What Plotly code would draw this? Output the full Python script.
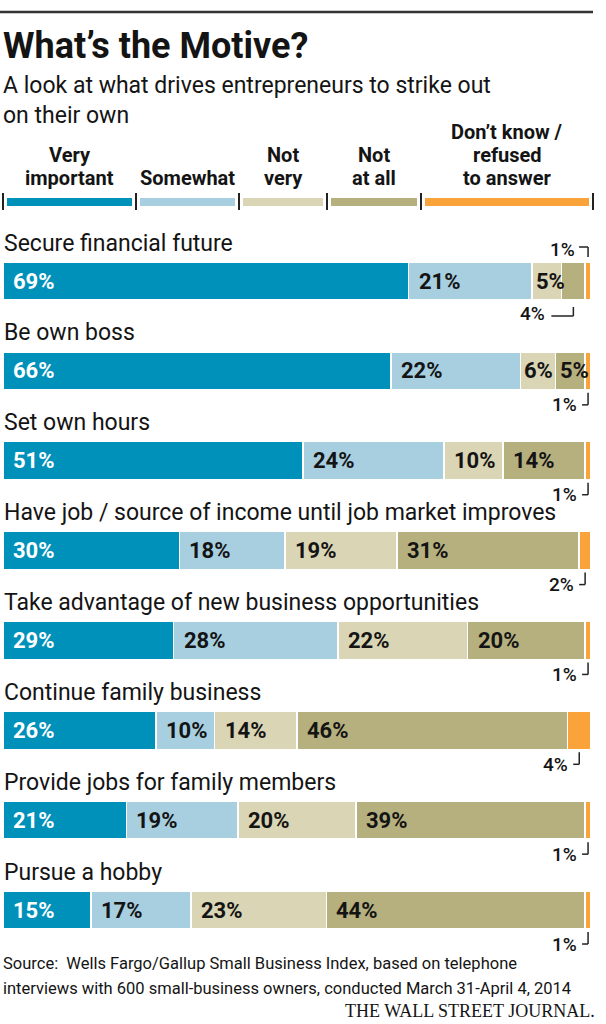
import plotly.graph_objects as go

# ---------------- data ----------------
categories = [
    "Secure financial future",
    "Be own boss",
    "Set own hours",
    "Have job / source of income until job market improves",
    "Take advantage of new business opportunities",
    "Continue family business",
    "Provide jobs for family members",
    "Pursue a hobby",
]
very_important = [69, 66, 51, 30, 29, 26, 21, 15]
somewhat = [21, 22, 24, 18, 28, 10, 19, 17]
not_very = [5, 6, 10, 19, 22, 14, 20, 23]
not_at_all = [4, 5, 14, 31, 20, 46, 39, 44]
dont_know = [1, 1, 1, 2, 1, 4, 1, 1]

series_names = ["Very important", "Somewhat", "Not very", "Not at all",
                "Don't know / refused to answer"]
legend_lines = [["Very", "important"], ["Somewhat"], ["Not", "very"],
                ["Not", "at all"], ["Don\u2019t know /", "refused", "to answer"]]
colors = ["#0091BA", "#A7CFE0", "#DAD5B4", "#B6B07E", "#F9A33A"]

title = "What\u2019s the Motive?"
subtitle = "A look at what drives entrepreneurs to strike out<br>on their own"
source_lines = [
    "Source:\u00a0\u00a0Wells Fargo/Gallup Small Business Index, based on telephone",
    "interviews with 600 small-business owners, conducted March 31-April 4, 2014",
]
credit = "THE WALL STREET JOURNAL."

# ---------------- layout constants ----------------
W, H = 606, 1024
X0 = 3.0          # pixel where 0% sits
S = 5.88          # pixels per percent
R0 = 281.0        # pixel centre of first row
RS = 89.86        # pixels between rows
BW = 38.0 / RS    # bar thickness in row units
FONT = "Roboto, 'Open Sans', sans-serif"
INK = "#141414"

series = [very_important, somewhat, not_very, not_at_all, dont_know]
rows = list(range(len(categories)))


def px(x):
    return x / W


def py(y):
    return 1 - y / H


fig = go.Figure()
for name, vals, col in zip(series_names, series, colors):
    fig.add_trace(go.Bar(
        x=vals, y=rows, orientation="h", name=name, width=BW,
        marker=dict(color=col, line=dict(color="white", width=1.5)),
        hoverinfo="skip", showlegend=False,
    ))

ann = []
shapes = []

# category labels
for i in rows:
    ann.append(dict(x=0, y=i - BW / 2, xref="x", yref="y", text=categories[i],
                    xanchor="left", yanchor="middle", yshift=19, xshift=-1,
                    showarrow=False,
                    font=dict(family=FONT, size=23, color=INK)))

LINE = dict(color="#222222", width=1.5)
SMALL = dict(family=FONT, size=19, weight=500, color=INK)

for i in rows:
    left = 0
    outside = [k for k in range(len(series)) if series[k][i] < 5]
    for k in range(len(series)):
        v = series[k][i]
        if v >= 5:
            ann.append(dict(x=left, y=i, xref="x", yref="y", text=f"{v}%",
                            xanchor="left", yanchor="middle",
                            xshift=8 if v >= 10 else 2, showarrow=False,
                            font=dict(family=FONT, size=22, weight="bold",
                                      color="white" if k == 0 else INK)))
        else:
            mark = left + v / 2
            top = i - BW / 2
            bot = i + BW / 2
            if len(outside) > 1 and k == outside[-1]:
                # label above with a bracket
                shapes.append(dict(type="line", xref="x", yref="y", ysizemode="pixel",
                                   yanchor=top, x0=mark, x1=mark, y0=5, y1=15, line=LINE))
                shapes.append(dict(type="line", xref="x", yref="y", xsizemode="pixel",
                                   ysizemode="pixel", xanchor=mark, yanchor=top,
                                   x0=-9, x1=0, y0=15, y1=15, line=LINE))
                ann.append(dict(x=mark, y=top, xref="x", yref="y", text=f"{v}%",
                                xanchor="right", yanchor="middle", xshift=-11, yshift=13,
                                showarrow=False, font=SMALL))
            elif len(outside) > 1:
                # label below with a long leader
                shapes.append(dict(type="line", xref="x", yref="y", ysizemode="pixel",
                                   yanchor=bot, x0=mark, x1=mark, y0=-7, y1=-16, line=LINE))
                shapes.append(dict(type="line", xref="x", yref="y", xsizemode="pixel",
                                   ysizemode="pixel", xanchor=mark, yanchor=bot,
                                   x0=-22, x1=0, y0=-16, y1=-16, line=LINE))
                ann.append(dict(x=mark, y=bot, xref="x", yref="y", text=f"{v}%",
                                xanchor="right", yanchor="middle", xshift=-26, yshift=-13,
                                showarrow=False, font=SMALL))
            else:
                # label below with a short corner mark
                shapes.append(dict(type="line", xref="x", yref="y", ysizemode="pixel",
                                   yanchor=bot, x0=mark, x1=mark, y0=-3, y1=-15, line=LINE))
                shapes.append(dict(type="line", xref="x", yref="y", xsizemode="pixel",
                                   ysizemode="pixel", xanchor=mark, yanchor=bot,
                                   x0=-6, x1=0, y0=-15, y1=-15, line=LINE))
                ann.append(dict(x=mark, y=bot, xref="x", yref="y", text=f"{v}%",
                                xanchor="right", yanchor="middle", xshift=-9, yshift=-15,
                                showarrow=False, font=SMALL))
        left += v

# top rule
shapes.append(dict(type="line", xref="paper", yref="paper", x0=0, x1=px(593),
                   y0=py(12), y1=py(12), line=dict(color="#333333", width=2.5)))

# title / subtitle
ann.append(dict(x=px(1), y=py(46), xref="paper", yref="paper", text=f"<b>{title}</b>",
                xanchor="left", yanchor="middle", showarrow=False,
                font=dict(family=FONT, size=36, color=INK)))
ann.append(dict(x=px(1), y=py(100), xref="paper", yref="paper", text=subtitle,
                xanchor="left", yanchor="middle", showarrow=False, align="left",
                font=dict(family=FONT, size=23, color=INK)))

# legend key
ticks = [3, 136, 239, 327, 421, 593]
for t in ticks:
    shapes.append(dict(type="line", xref="paper", yref="paper", x0=px(t), x1=px(t),
                       y0=py(193), y1=py(210), line=dict(color="#222222", width=2)))
for k in range(len(series_names)):
    a, b = ticks[k], ticks[k + 1]
    shapes.append(dict(type="rect", xref="paper", yref="paper", x0=px(a + 4), x1=px(b - 4),
                       y0=py(198), y1=py(206), fillcolor=colors[k], line=dict(width=0)))
    lines = legend_lines[k]
    n = len(lines)
    for j, ln in enumerate(lines):
        mid = 178 - 23 * (n - 1 - j)
        ann.append(dict(x=px((a + b) / 2), y=py(mid), xref="paper", yref="paper",
                        text=f"<b>{ln}</b>", xanchor="center", yanchor="middle",
                        showarrow=False, font=dict(family=FONT, size=20, color=INK)))

# footer
for j, ln in enumerate(source_lines):
    ann.append(dict(x=px(1), y=py(963 + 25 * j), xref="paper", yref="paper", text=ln,
                    xanchor="left", yanchor="middle", showarrow=False,
                    font=dict(family=FONT, size=16.5, color=INK)))
ann.append(dict(x=px(597), y=py(1011), xref="paper", yref="paper", text=credit,
                xanchor="right", yanchor="middle", showarrow=False,
                font=dict(family="'Liberation Serif', 'DejaVu Serif', serif", size=18,
                          color=INK)))

fig.update_layout(
    width=W, height=H, barmode="stack", bargap=0,
    margin=dict(l=0, r=0, t=0, b=0),
    paper_bgcolor="white", plot_bgcolor="white",
    hovermode=False,
    xaxis=dict(range=[-X0 / S, (W - X0) / S], visible=False, fixedrange=True),
    yaxis=dict(range=[(H - R0) / RS, -R0 / RS], visible=False, fixedrange=True),
    annotations=ann, shapes=shapes,
)

fig.write_html(
    "out.html",
    config={"displayModeBar": False, "staticPlot": True},
    post_script="document.body.style.margin='0';document.body.style.overflow='hidden';",
)
